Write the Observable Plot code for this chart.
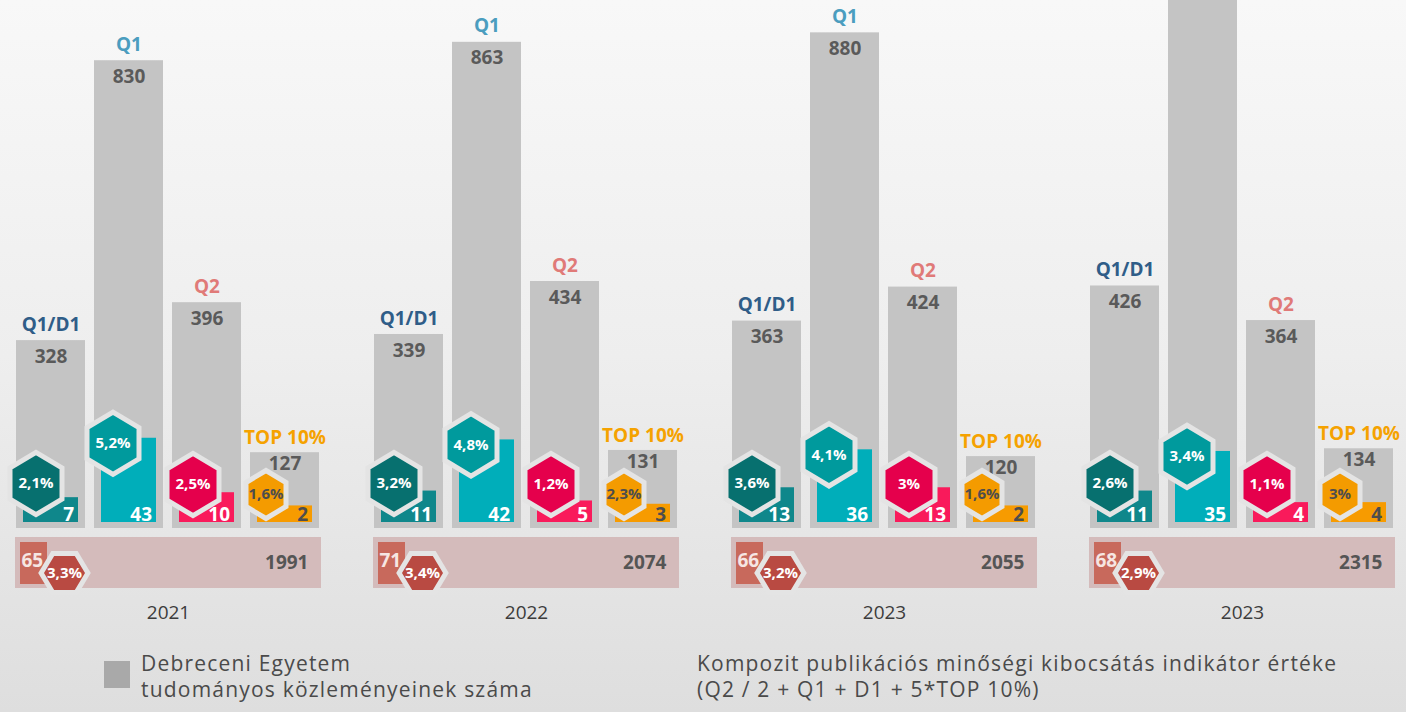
<!DOCTYPE html>
<html>
<head>
<meta charset="utf-8">
<script src="https://cdn.jsdelivr.net/npm/d3@7"></script>
<script src="https://cdn.jsdelivr.net/npm/@observablehq/plot@0.6"></script>
<style>
  html, body { margin: 0; padding: 0; }
  body {
    width: 1406px; height: 712px; overflow: hidden; position: relative;
    background: linear-gradient(to bottom, #f8f8f8 0%, #eeeeee 50%, #dedede 100%);
    font-family: "Open Sans", sans-serif;
  }
  #chart svg { display: block; }
  .legend { position: absolute; left: 0; top: 632px; width: 1406px; height: 80px; color: #4a4a4a; font-size: 21px; line-height: 26px; letter-spacing: 1.2px; }
  .legend .sw { position: absolute; left: 104px; top: 29px; width: 26px; height: 27px; background: #a9a9a9; }
  .legend .t1 { position: absolute; left: 141px; top: 18px; white-space: nowrap; }
  .legend .t2 { position: absolute; left: 697px; top: 18px; white-space: nowrap; }
</style>
</head>
<body>
<div id="chart"></div>
<div class="legend">
  <div class="sw"></div>
  <div class="t1">Debreceni Egyetem<br>tudományos közleményeinek száma</div>
  <div class="t2">Kompozit publikációs minőségi kibocsátás indikátor értéke<br>(Q2 / 2 + Q1 + D1 + 5*TOP 10%)</div>
</div>
<script>
// ---- data ----
const groupIds = ["g1", "g2", "g3", "g4"];
const yearLabels = ["2021", "2022", "2023", "2023"];
const categories = ["Q1/D1", "Q1", "Q2", "TOP 10%"];

// university publications per category (grey bars)
const pubQ1D1 = [328, 339, 363, 426];
const pubQ1   = [830, 863, 880, 1000];
const pubQ2   = [396, 434, 424, 364];
const pubTop  = [127, 131, 120, 134];

// composite indicator counts (coloured bars)
const compQ1D1 = [7, 11, 13, 11];
const compQ1   = [43, 42, 36, 35];
const compQ2   = [10, 5, 13, 4];
const compTop  = [2, 3, 2, 4];

// shares in percent (hexagons)
const pctQ1D1 = [2.1, 3.2, 3.6, 2.6];
const pctQ1   = [5.2, 4.8, 4.1, 3.4];
const pctQ2   = [2.5, 1.2, 3, 1.1];
const pctTop  = [1.6, 2.3, 1.6, 3];

// totals row
const totalPubs = [1991, 2074, 2055, 2315];
const compositeTotal = [65, 71, 66, 68];
const compositePct = [3.3, 3.4, 3.2, 2.9];

// ---- styles ----
const labelColor = {"Q1/D1": "#2f5d88", "Q1": "#4b9dbf", "Q2": "#e07a78", "TOP 10%": "#f5a200"};
const barColor   = {"Q1/D1": "#0f878b", "Q1": "#00aeba", "Q2": "#f91a5b", "TOP 10%": "#f79b00"};
const hexColor   = {"Q1/D1": "#07706f", "Q1": "#009a9d", "Q2": "#e5004c", "TOP 10%": "#f49b00"};

// ---- tables ----
const pubs = [pubQ1D1, pubQ1, pubQ2, pubTop];
const comps = [compQ1D1, compQ1, compQ2, compTop];
const pcts = [pctQ1D1, pctQ1, pctQ2, pctTop];
const rows = [];
groupIds.forEach((g, i) => categories.forEach((c, j) => rows.push({
  group: g, cat: c, pub: pubs[j][i], comp: comps[j][i], pct: pcts[j][i]
})));
const totRows = groupIds.map((g, i) => ({
  group: g, year: yearLabels[i], cat: "Q1/D1", total: totalPubs[i], comp: compositeTotal[i], pct: compositePct[i]
}));

const yMax = 938;
// labels of a bar that runs off the top of the picture are not shown
const labelRows = rows.filter(d => d.pub < yMax - 50);
const mainLabels = labelRows.filter(d => d.cat !== "TOP 10%");
const topLabels = labelRows.filter(d => d.cat === "TOP 10%");

const fmtPct = d => String(d.pct).replace(".", ",") + "%";
// composite counts are drawn on their own offset scale, as in the infographic
const innerY = v => 25.6 + 2.96 * v;

// elongated hexagon symbol (pointy top)
const hexSym = {
  draw(ctx, size) {
    const r = Math.sqrt(size / Math.PI), R = r * 1.2;
    ctx.moveTo(0, -R);
    ctx.lineTo(r, -R / 2);
    ctx.lineTo(r, R / 2);
    ctx.lineTo(0, R);
    ctx.lineTo(-r, R / 2);
    ctx.lineTo(-r, -R / 2);
    ctx.closePath();
  }
};

const font = "'Open Sans', sans-serif";
const common = {
  width: 1406, marginLeft: 14, marginRight: 10,
  fx: {domain: groupIds, paddingInner: 0.1446, paddingOuter: 0, axis: null},
  x: {domain: categories, paddingInner: 0.11, paddingOuter: 0, axis: null},
  style: {background: "transparent", fontFamily: font, overflow: "visible"}
};

const hexMarks = (cat, yAcc, dy, r, dx, textFill) => {
  const data = rows.filter(d => d.cat === cat);
  return [
    Plot.dot(data, {fx: "group", x: "cat", y: yAcc, dx, dy, r, symbol: hexSym,
      fill: hexColor[cat], stroke: "#e4e4e4", strokeWidth: 5}),
    Plot.text(data, {fx: "group", x: "cat", y: yAcc, dx, dy, text: fmtPct,
      fill: textFill, fontSize: 15, fontWeight: 700})
  ];
};

const labelMarks = (data, dyCat, dyVal) => [
  Plot.text(data, {fx: "group", x: "cat", y: "pub", text: "cat", fill: d => labelColor[d.cat],
    dy: dyCat, fontSize: 19, fontWeight: 700}),
  Plot.text(data, {fx: "group", x: "cat", y: "pub", text: d => String(d.pub), fill: "#5a5a5a",
    dy: dyVal, fontSize: 19, fontWeight: 700})
];

const chartA = Plot.plot({
  ...common,
  height: 532, marginTop: 0, marginBottom: 9,
  y: {domain: [0, yMax], axis: null},
  marks: [
    Plot.barY(rows, {fx: "group", x: "cat", y: "pub", fill: "#c4c4c4", insetBottom: -5}),
    Plot.barY(rows, {fx: "group", x: "cat", y: d => innerY(d.comp), fill: d => barColor[d.cat],
      insetLeft: 7, insetRight: 7, insetBottom: 1}),
    ...labelMarks(mainLabels, -16, 16),
    ...labelMarks(topLabels, -15, 11),
    Plot.text(rows, {fx: "group", x: "cat", y: () => 0, text: d => String(d.comp),
      fill: d => d.cat === "TOP 10%" ? "#4d4d4d" : "#ffffff",
      textAnchor: "end", lineAnchor: "bottom", dx: 23, dy: -3, fontSize: 19, fontWeight: 700}),
    ...hexMarks("Q1/D1", () => 0, -40, 26, -15, "#ffffff"),
    ...hexMarks("Q1", d => innerY(d.comp), 5, 26, -16, "#ffffff"),
    ...hexMarks("Q2", () => 0, -39, 26, -14, "#ffffff"),
    ...hexMarks("TOP 10%", () => 0, -29, 20, -19, "#4d4d4d")
  ]
});

const chartB = Plot.plot({
  ...common,
  height: 100, marginTop: 5, marginBottom: 44,
  marks: [
    Plot.rect(totRows, {fx: "group", fill: "#d4bbbb"}),
    Plot.cell(totRows, {fx: "group", x: "cat", fill: "#c8695c",
      insetLeft: 4, insetRight: 38, insetTop: 5, insetBottom: 4}),
    Plot.text(totRows, {fx: "group", frameAnchor: "top-left", text: d => String(d.comp),
      textAnchor: "start", dx: 6, dy: 16, fill: "#f6e6e3", fontSize: 19, fontWeight: 700}),
    Plot.text(totRows, {fx: "group", frameAnchor: "right", text: d => String(d.total),
      textAnchor: "end", dx: -13, fill: "#555555", fontSize: 19, fontWeight: 700}),
    Plot.dot(totRows, {fx: "group", frameAnchor: "left", dx: 49, dy: 10, r: 19.5, rotate: 90,
      symbol: hexSym, fill: "#b94a42", stroke: "#e4e4e4", strokeWidth: 5}),
    Plot.text(totRows, {fx: "group", frameAnchor: "left", textAnchor: "middle", dx: 49, dy: 10,
      text: fmtPct, fill: "#ffffff", fontSize: 15, fontWeight: 700}),
    Plot.text(totRows, {fx: "group", frameAnchor: "bottom", text: "year", dy: 30,
      fill: "#3c3c3c", fontSize: 19})
  ]
});

document.getElementById("chart").append(chartA, chartB);
</script>
</body>
</html>
